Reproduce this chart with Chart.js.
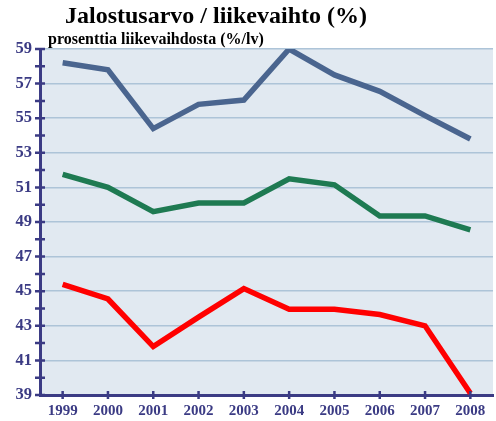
<!DOCTYPE html>
<html>
<head>
<meta charset="utf-8">
<script src="https://cdn.jsdelivr.net/npm/chart.js@4/dist/chart.umd.min.js"></script>
<style>
	body { margin: 0; background: #fff; }
	#wrap { position: relative; width: 496px; height: 421px; }
	#chart { position: absolute; left: 0; top: 0; }
	.title {
		position: absolute;
		font-family: 'Liberation Serif', 'Times New Roman', serif;
		font-weight: bold;
		color: #000;
		white-space: nowrap;
	}
	#title { left: 65px; top: 3px; font-size: 24px; line-height: 24px; }
	#subtitle { left: 48px; top: 31px; font-size: 16px; line-height: 16px; }
</style>
</head>
<body>
<div id="wrap">
	<canvas id="chart" width="496" height="421"></canvas>
	<div id="title" class="title">Jalostusarvo / liikevaihto (%)</div>
	<div id="subtitle" class="title">prosenttia liikevaihdosta (%/lv)</div>
</div>
<script>
var years = ['1999', '2000', '2001', '2002', '2003', '2004', '2005', '2006', '2007', '2008'];
var blueSeries = [58.2, 57.8, 54.4, 55.8, 56.05, 59.0, 57.5, 56.55, 55.15, 53.8];
var greenSeries = [51.75, 51.0, 49.6, 50.1, 50.1, 51.5, 51.15, 49.35, 49.35, 48.55];
var redSeries = [45.4, 44.55, 41.8, 43.5, 45.15, 43.95, 43.95, 43.65, 43.0, 39.1];
var yMin = 39;
var yMax = 59;

var axisColor = '#3b3b84';
var gridColor = '#adc4d8';
var plotBackground = '#e1e9f1';
var tickFontFamily = "'Liberation Serif', 'Times New Roman', serif";

//Fill only the plot area, under the grid
var plotBackgroundPlugin = {
	id: 'plotBackground',
	beforeDraw: function(chart) {
		var area = chart.chartArea,
			ctx = chart.ctx;

		ctx.save();
		ctx.fillStyle = plotBackground;
		ctx.fillRect(area.left, area.top, area.right - area.left, area.bottom - area.top);
		ctx.restore();
	}
};

//Tick marks cross the axis lines on both sides
var crossTicksPlugin = {
	id: 'crossTicks',
	afterDraw: function(chart) {
		var ctx = chart.ctx,
			xScale = chart.scales.x,
			yScale = chart.scales.y,
			area = chart.chartArea;

		ctx.save();
		ctx.strokeStyle = axisColor;
		ctx.lineWidth = 2.5;
		ctx.beginPath();

		for (let v = yMin; v <= yMax; v++) {
			let y = yScale.getPixelForValue(v);
			ctx.moveTo(area.left - 5, y);
			ctx.lineTo(area.left + 5, y);
		}

		for (let i = 0; i < years.length; i++) {
			let x = xScale.getPixelForValue(i);
			ctx.moveTo(x, area.bottom - 4);
			ctx.lineTo(x, area.bottom + 4);
		}

		ctx.stroke();
		ctx.restore();
	}
};

function makeDataset(data, color) {
	return {
		data: data,
		borderColor: color,
		backgroundColor: color,
		borderWidth: 5.5,
		fill: false,
		tension: 0,
		pointRadius: 0,
		pointHoverRadius: 0
	};
}

new Chart(document.getElementById('chart'), {
	type: 'line',
	data: {
		labels: years,
		datasets: [
			makeDataset(blueSeries, '#4a658f'),
			makeDataset(greenSeries, '#1e7a52'),
			makeDataset(redSeries, '#ff0000')
		]
	},
	options: {
		responsive: false,
		animation: false,
		events: [],
		layout: {
			padding: {top: 49, right: 3, left: 0, bottom: 0}
		},
		plugins: {
			legend: {display: false},
			tooltip: {enabled: false}
		},
		scales: {
			x: {
				offset: true,
				afterFit: function(scale) {
					scale.height = 26;
				},
				grid: {
					color: 'transparent',
					drawTicks: false,
					offset: true
				},
				border: {
					color: axisColor,
					width: 3
				},
				ticks: {
					color: axisColor,
					padding: 7,
					autoSkip: false,
					maxRotation: 0,
					font: {family: tickFontFamily, size: 15, weight: 'bold'}
				}
			},
			y: {
				min: yMin,
				max: yMax,
				afterFit: function(scale) {
					scale.width = 40;
				},
				grid: {
					drawTicks: false,
					lineWidth: 1.5,
					color: function(context) {
						return context.tick && context.tick.value % 2 !== 0 ? gridColor : 'transparent';
					}
				},
				border: {
					color: axisColor,
					width: 3
				},
				ticks: {
					stepSize: 1,
					autoSkip: false,
					color: axisColor,
					padding: 8,
					font: {family: tickFontFamily, size: 16.5, weight: 'bold'},
					callback: function(value) {
						return value % 2 !== 0 ? value : '';
					}
				}
			}
		}
	},
	plugins: [plotBackgroundPlugin, crossTicksPlugin]
});
</script>
</body>
</html>
